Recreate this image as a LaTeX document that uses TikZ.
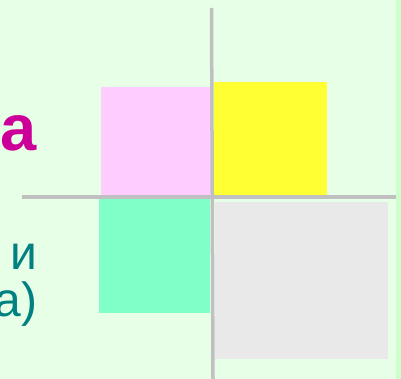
\documentclass[tikz,border=0pt]{standalone}
\usepackage{fontspec}
\setmainfont{Liberation Sans}
\usepackage{tikz}
\definecolor{bggreen}{RGB}{230,255,230}
\definecolor{edgegreen}{RGB}{204,255,204}
\definecolor{axisgray}{RGB}{192,192,192}
\definecolor{sqpink}{RGB}{255,204,255}
\definecolor{sqyellow}{RGB}{255,255,51}
\definecolor{sqaqua}{RGB}{128,255,200}
\definecolor{sqgray}{RGB}{233,233,233}
\definecolor{txtmagenta}{RGB}{204,0,153}
\definecolor{txtteal}{RGB}{0,128,128}

\begin{document}
\begin{tikzpicture}[x=1pt,y=-1pt,
    axis/.style={draw=axisgray,line width=3.5pt},
    word/.style={anchor=base east,inner sep=0pt,text=txtteal,font=\fontsize{48}{48}\selectfont}]
    \fill[bggreen] (0,0) rectangle (401,379);
    \fill[edgegreen] (396,0) rectangle (401,379);
    \useasboundingbox (0,0) rectangle (401,379);

    \fill[sqpink] (101,87) rectangle (211,197);
    \fill[sqyellow] (214,82) rectangle (327,196);
    \fill[sqaqua] (99,199) rectangle (210,313);
    \fill[sqgray] (215,202) rectangle (388,359);

    \coordinate (top) at (211.5,8);
    \coordinate (bottom) at (213,379);
    \coordinate (left) at (22,197);
    \coordinate (right) at (396,197);
    \draw[axis] (top) -- (bottom);
    \draw[axis] (left) -- (right);

    \node[word,text=txtmagenta,font=\fontsize{65}{65}\selectfont\bfseries] (title) at (37,151) {а};
    \node[word] (conj) at (37.5,269) {и};
    \node[word] (tail) at (37.5,316) {а)};
  \end{tikzpicture}
\end{document}
